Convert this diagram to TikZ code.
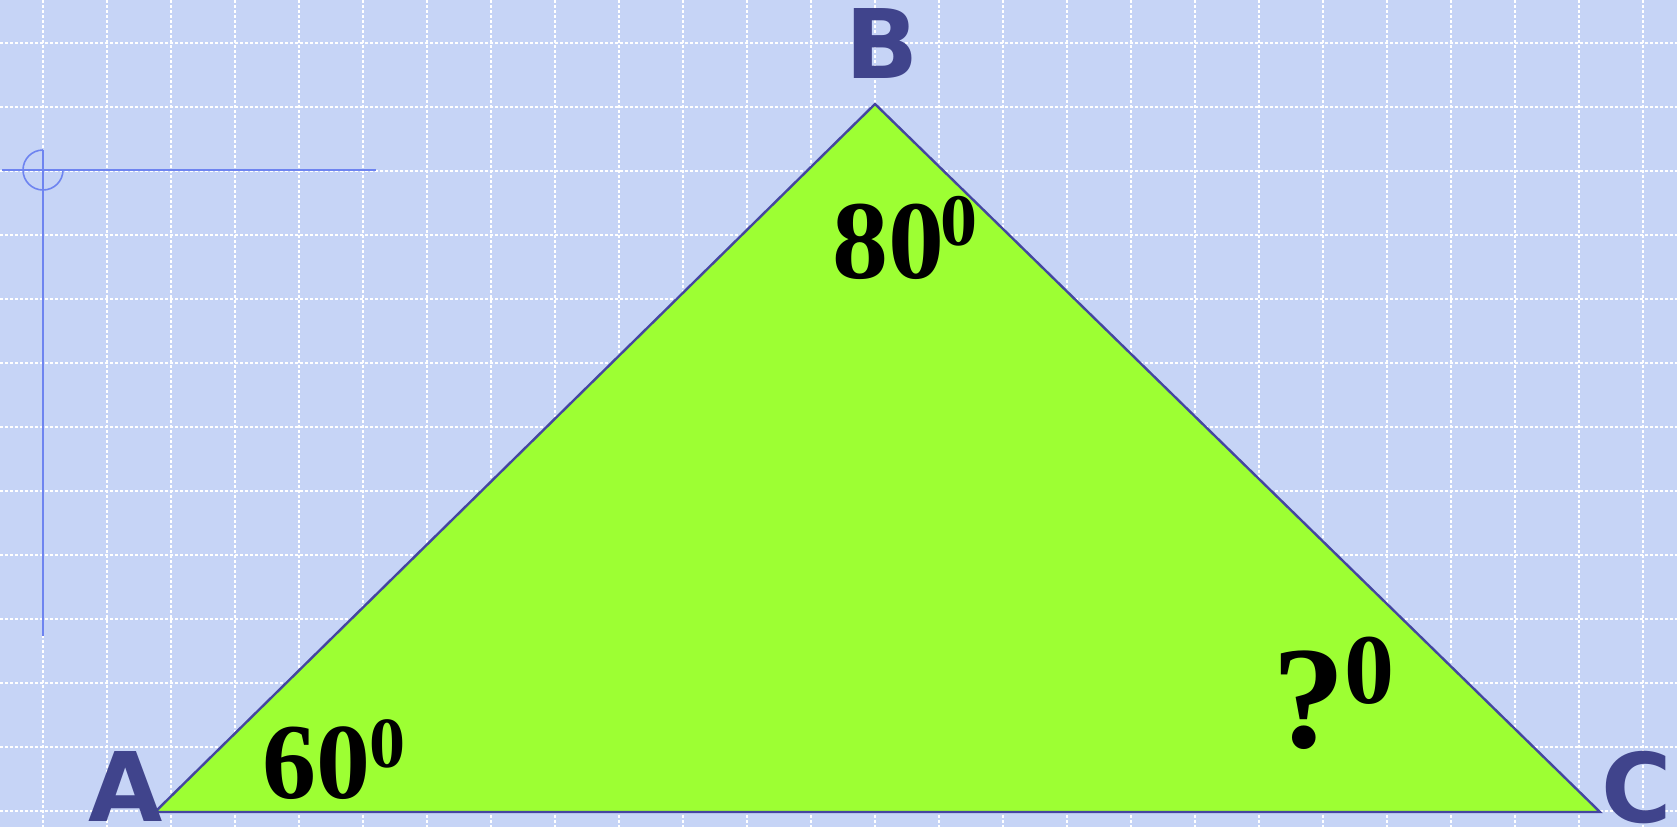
\documentclass[tikz,border=0pt]{standalone}
\usepackage{fontspec}
\setmainfont{Liberation Serif}
\newfontfamily\labelfont{DejaVu Sans}
\definecolor{bgcol}{RGB}{198,212,246}
\definecolor{gridcol}{RGB}{255,255,255}
\definecolor{trifill}{RGB}{157,255,51}
\definecolor{triedge}{RGB}{68,70,160}
\definecolor{lettercol}{RGB}{64,68,140}
\definecolor{markcol}{RGB}{110,132,240}
\tikzset{
  gridline/.style={draw=gridcol, line width=1.4pt, dash pattern=on 3pt off 2pt},
  vertexlabel/.style={inner sep=0pt, anchor=base, text=lettercol, font=\labelfont\bfseries\fontsize{96}{96}\selectfont},
  anglebig/.style={inner sep=0pt, anchor=base west, text=black, font=\bfseries},
  markline/.style={draw=markcol, line width=1.6pt},
}
\newcommand{\supz}[3]{\kern#1pt\raisebox{#2pt}{\fontsize{#3}{#3}\selectfont 0}}
\begin{document}
\begin{tikzpicture}[x=1pt,y=-1pt]
\useasboundingbox (0,0) rectangle (1677,827);
\fill[bgcol] (0,0) rectangle (1677,827);
% grid
\foreach \k in {0,...,25} { \draw[gridline] (43+64*\k,0) -- (43+64*\k,827); }
\foreach \k in {0,...,12} { \draw[gridline] (0,43+64*\k) -- (1677,43+64*\k); }
% corner mark
\coordinate (ML) at (2,170);
\coordinate (MR) at (376,170);
\coordinate (MT) at (43,150);
\coordinate (MB) at (43,636);
\draw[markline] (ML) -- (MR);
\draw[markline] (MT) -- (MB);
\draw[markline] (MT) arc[start angle=270, end angle=0, radius=20];
% triangle
\coordinate (A) at (155,812);
\coordinate (B) at (875,104);
\coordinate (C) at (1600,812);
\filldraw[fill=trifill, draw=triedge, line width=2.4pt, line join=miter] (A) -- (B) -- (C) -- cycle;
% vertex labels
\node[vertexlabel] (la) at (126,821) {A};
\node[vertexlabel] (lb) at (882,78) {B};
\node[vertexlabel] (lc) at (1637,822) {C};
% angle labels
\node[anglebig] (lb2) at (832,278) {\fontsize{112}{112}\selectfont 80\supz{-4}{33}{74}};
\node[anglebig] (la2) at (262,798) {\fontsize{108}{108}\selectfont 60\supz{-1}{31}{72}};
\node[anglebig] (lc2) at (1272,747) {\fontsize{146}{146}\selectfont ?\supz{-1}{44}{100}};
\end{tikzpicture}
\end{document}
